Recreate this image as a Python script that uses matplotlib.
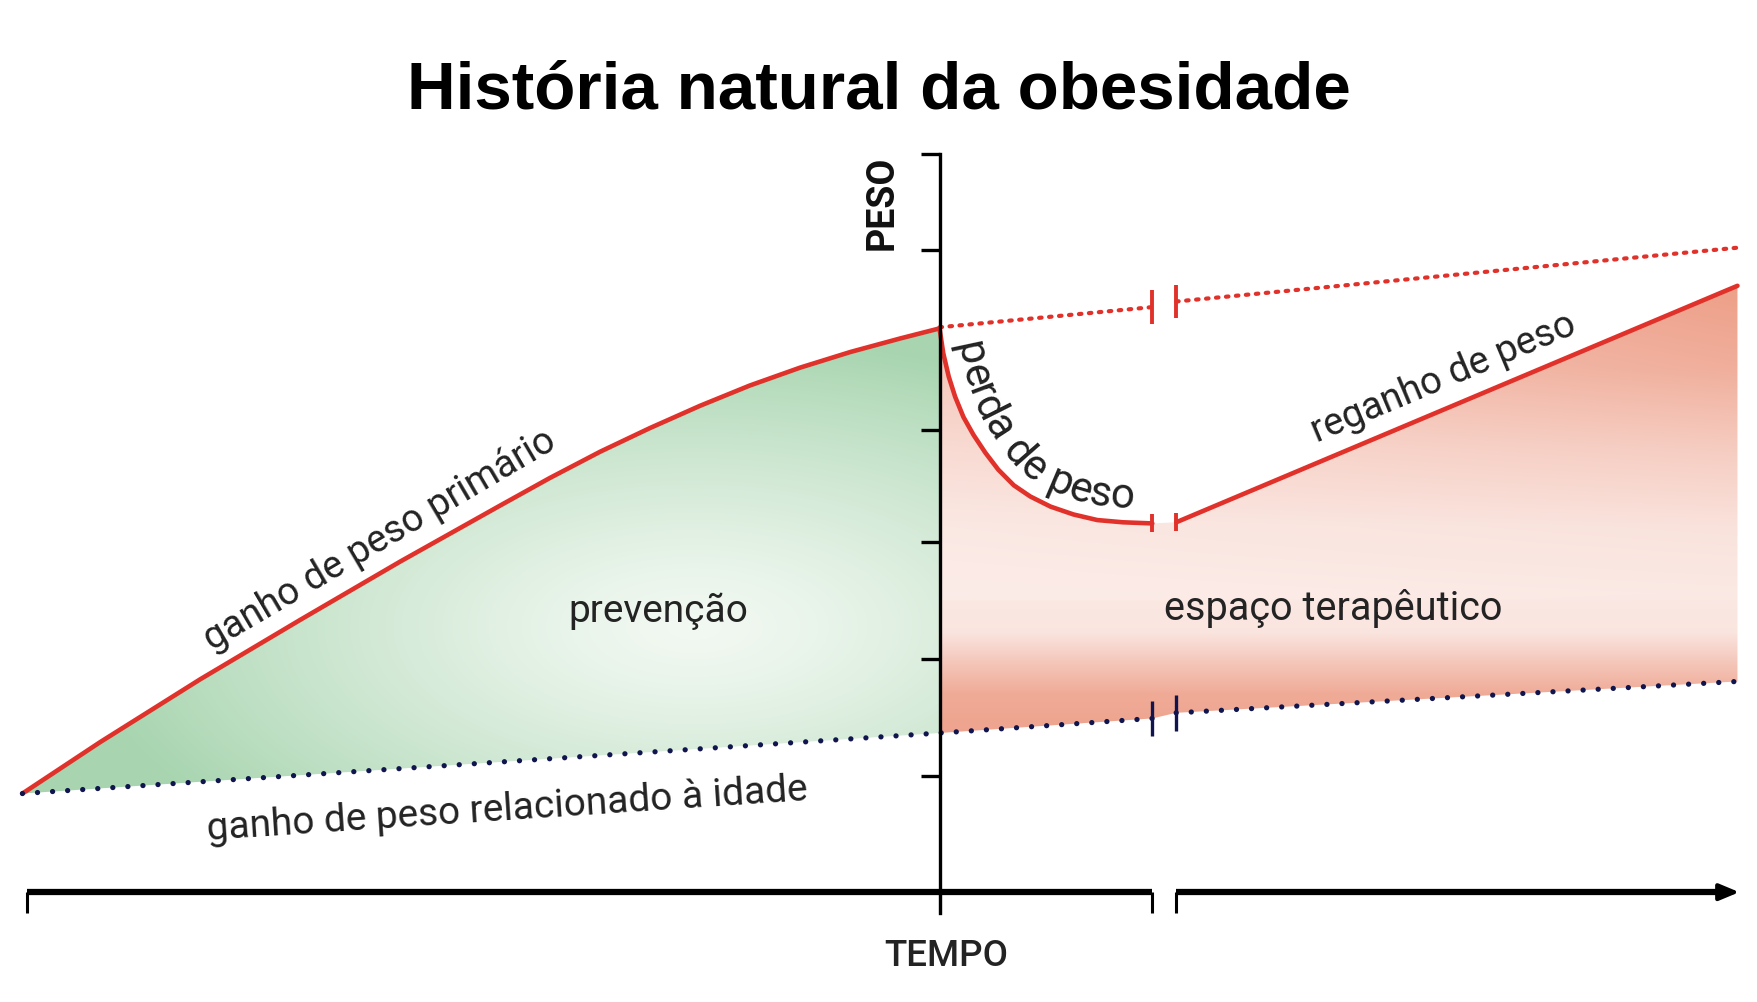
import numpy as np
import matplotlib
matplotlib.use("Agg")
import matplotlib.pyplot as plt
from matplotlib.patches import Polygon
from matplotlib.transforms import IdentityTransform
from matplotlib.font_manager import FontProperties, findfont, get_font

# ---- dados (unidades arbitrárias de tempo e peso) ----
# ganho de peso primário
t_primary = [0.0, 0.85, 1.94, 3.03, 4.12, 5.21, 5.75, 6.30, 6.84, 7.39, 7.93, 8.48, 9.03, 9.57, 10.0]
w_primary = [0.88, 1.34, 1.90, 2.43, 2.95, 3.45, 3.695, 3.93, 4.14, 4.34, 4.52, 4.68, 4.82, 4.94, 5.03]

# perda de peso
t_loss = [10.0, 10.04, 10.10, 10.17, 10.26, 10.37, 10.50, 10.64, 10.81, 10.99,
          11.21, 11.46, 11.72, 12.00, 12.32]
w_loss = [5.03, 4.81, 4.60, 4.42, 4.24, 4.08, 3.92, 3.77, 3.63, 3.53,
          3.44, 3.37, 3.32, 3.30, 3.29]

# reganho de peso
t_regain = [12.58, 18.70]
w_regain = [3.30, 5.41]

# trajetória sem tratamento (pontilhado vermelho)
t_untreated = [10.0, 12.32, 12.58, 18.70]
w_untreated = [5.04, 5.22, 5.27, 5.75]

# ganho de peso relacionado à idade
t_age = [0.0, 10.0, 12.32, 12.58, 18.70]
w_age = [0.88, 1.42, 1.55, 1.60, 1.88]

y_ticks = [1.04, 2.08, 3.12, 4.12, 5.73, 6.59]
t_axis_ticks = [0.05, 10.0, 12.32, 12.58]
t_break = [12.32, 12.58]

RED = "#e0322a"
NAVY = "#10164d"
TXT = "#232323"
FONT = "Roboto"

fig = plt.figure(figsize=(17.58, 10.02), dpi=100)
ax = fig.add_axes([0, 0, 1, 1])

# ---- preenchimentos em degradê ----
green_poly = np.vstack([np.column_stack([t_primary, w_primary]),
                        [[t_age[1], w_age[1]], [t_age[0], w_age[0]]]])
gt, gw = np.meshgrid(np.linspace(0, 10, 500), np.linspace(0.8, 5.1, 300))
r = np.clip(np.hypot((gt - 7.33) / 6.7, (gw - 2.36) / 2.6), 0, 1) ** 1.3
g_light = np.array([0.95, 0.975, 0.95])
g_dark = np.array([0.66, 0.835, 0.69])
img = g_light + (g_dark - g_light) * r[..., None]
im = ax.imshow(img, extent=[0, 10, 0.8, 5.1], origin="lower", aspect="auto",
               interpolation="bilinear", zorder=1)
gp = Polygon(green_poly, closed=True, fc="none", ec="none", transform=ax.transData)
ax.add_patch(gp)
im.set_clip_path(gp)

red_poly = np.vstack([np.column_stack([t_loss, w_loss]),
                      np.column_stack([t_regain, w_regain]),
                      np.column_stack([t_age[::-1][:4], w_age[::-1][:4]])])
rt, rw = np.meshgrid(np.linspace(10, 18.7, 200), np.linspace(1.3, 5.5, 400))
prof_w = [1.36, 1.76, 2.01, 2.31, 2.66, 3.26, 3.96, 4.66, 5.45]
prof_i = [0.95, 0.85, 0.55, 0.15, 0.10, 0.18, 0.45, 0.80, 1.0]
ri = np.interp(rw, prof_w, prof_i)
# a parte de cima fica mais clara perto do eixo
ri = np.where(rw > 2.6, ri * (0.6 + 0.4 * (rt - 10) / 8.7), ri)
r_light = np.array([0.99, 0.945, 0.935])
r_dark = np.array([0.93, 0.62, 0.53])
img2 = r_light + (r_dark - r_light) * ri[..., None]
im2 = ax.imshow(img2, extent=[10, 18.7, 1.3, 5.5], origin="lower", aspect="auto",
                interpolation="bilinear", zorder=1)
rp = Polygon(red_poly, closed=True, fc="none", ec="none", transform=ax.transData)
ax.add_patch(rp)
im2.set_clip_path(rp)

ax.set_xlim(-0.2445, 18.924)
ax.set_ylim(-0.98, 7.96)
ax.axis("off")

# ---- curvas ----
solid = dict(color=RED, lw=3.3, solid_capstyle="round", solid_joinstyle="round", zorder=4)
ax.plot(t_primary, w_primary, **solid)
ax.plot(t_loss, w_loss, **solid)
ax.plot(t_regain, w_regain, **solid)
red_dots = dict(color=RED, lw=3.0, linestyle=(0, (0.6, 1.8)), dash_capstyle="round", zorder=4)
ax.plot(t_untreated[:2], w_untreated[:2], **red_dots)
ax.plot(t_untreated[2:], w_untreated[2:], **red_dots)
navy_dots = dict(color=NAVY, lw=3.8, linestyle=(0, (0.01, 2.85)), dash_capstyle="round", zorder=4)
ax.plot(t_age[:3], w_age[:3], **navy_dots)
ax.plot(t_age[3:], w_age[3:], **navy_dots)

# marcas de interrupção
ax.vlines(t_break, [w_untreated[1] - 0.15, w_untreated[2] - 0.15],
          [w_untreated[1] + 0.15, w_untreated[2] + 0.15], color=RED, lw=2.8, zorder=4)
ax.vlines(t_break, [w_loss[-1] - 0.08, w_regain[0] - 0.08],
          [w_loss[-1] + 0.08, w_regain[0] + 0.08], color=RED, lw=2.8, zorder=4)
ax.vlines(t_break, [w_age[2] - 0.16, w_age[3] - 0.16],
          [w_age[2] + 0.16, w_age[3] + 0.16], color=NAVY, lw=2.4, zorder=4)

# ---- eixos ----
ax.plot([10, 10], [-0.19, y_ticks[-1]], color="black", lw=2.4, zorder=5)
ax.hlines(y_ticks, 10 - 0.2, 10, color="black", lw=2.4, zorder=5)
ax.plot([t_axis_ticks[0], t_break[0]], [0, 0], color="black", lw=4.5,
        solid_capstyle="butt", zorder=5)
ax.plot([t_break[1], 18.55], [0, 0], color="black", lw=4.5,
        solid_capstyle="butt", zorder=5)
ax.annotate("", xy=(18.72, 0), xytext=(18.3, 0),
            arrowprops=dict(arrowstyle="-|>,head_length=0.6,head_width=0.25",
                            color="black", lw=3, shrinkA=0, shrinkB=0,
                            mutation_scale=20), zorder=5)
ax.vlines(t_axis_ticks, -0.19, 0, color="black", lw=2.2, zorder=5)

# ---- textos ----
fig.text(0.5, 0.892, "História natural da obesidade", ha="center", va="baseline",
         fontsize=48.5, fontweight="bold", family="Liberation Sans", color="black")
ax.text(9.37, 6.15, "PESO", rotation=90, ha="center", va="center",
        fontsize=27, fontweight="bold", family=FONT, color="#111111")
ax.text(10.07, -0.66, "TEMPO", ha="center", va="baseline",
        fontsize=26.5, fontweight="medium", family=FONT, color=TXT)
ax.text(6.93, 2.41, "prevenção", ha="center", va="baseline",
        fontsize=28, family=FONT, color=TXT, zorder=6)
ax.text(14.29, 2.43, "espaço terapêutico", ha="center", va="baseline",
        fontsize=28.5, family=FONT, color=TXT, zorder=6)
ax.text(5.28, 0.74, "ganho de peso relacionado à idade", rotation=3.8,
        rotation_mode="anchor", ha="center", va="center",
        fontsize=28, family=FONT, color=TXT, zorder=6)
ax.text(3.90, 3.14, "ganho de peso primário", rotation=30.5,
        rotation_mode="anchor", ha="center", va="center",
        fontsize=27.5, family=FONT, color=TXT, zorder=6)
ax.text(15.50, 4.59, "reganho de peso", rotation=22.8,
        rotation_mode="anchor", ha="center", va="center",
        fontsize=27.5, family=FONT, color=TXT, zorder=6)


def text_on_curve(s, tx, wy, fontsize, offset_px, start_px):
    base = ax.transData.transform(np.column_stack([tx, wy]))
    seg = np.hypot(*np.diff(base, axis=0).T)
    arc = np.concatenate([[0], np.cumsum(seg)])
    fine = np.linspace(0, arc[-1], 600)
    px = np.interp(fine, arc, base[:, 0])
    py = np.interp(fine, arc, base[:, 1])
    ang = np.unwrap(np.arctan2(np.gradient(py), np.gradient(px)))
    ang = np.convolve(np.pad(ang, 20, mode="edge"), np.ones(41) / 41, mode="valid")
    ox = px - np.sin(ang) * offset_px
    oy = py + np.cos(ang) * offset_px
    oarc = np.concatenate([[0], np.cumsum(np.hypot(np.diff(ox), np.diff(oy)))])
    font = get_font(findfont(FontProperties(family=FONT)))
    font.set_size(fontsize, fig.dpi)
    adv = np.array([font.load_char(ord(c)).linearHoriAdvance / 65536 for c in s])
    centers = start_px + np.concatenate([[0], np.cumsum(adv)[:-1]]) + adv / 2
    for c, sc in zip(s, centers):
        if c == " ":
            continue
        x = np.interp(sc, oarc, ox)
        y = np.interp(sc, oarc, oy)
        a = np.degrees(np.interp(sc, oarc, ang))
        ax.text(x, y, c, transform=IdentityTransform(), rotation=a,
                rotation_mode="anchor", ha="center", va="baseline",
                fontsize=fontsize, family=FONT, color=TXT, zorder=6)


text_on_curve("perda de peso", t_loss, w_loss, 30.5, 14, 18)

fig.savefig("out.png", dpi=100, facecolor="white")
